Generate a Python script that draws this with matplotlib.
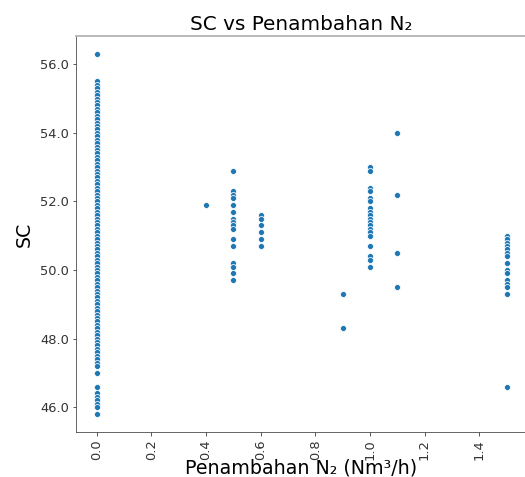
import matplotlib
matplotlib.use("Agg")
import matplotlib.pyplot as plt
from matplotlib.ticker import FormatStrFormatter

# SC values grouped by N2 addition level (Nm3/h)
sc_n2_00 = [
    56.3,
    55.5, 55.4, 55.3, 55.2, 55.1, 55.0, 54.9, 54.8, 54.7, 54.6,
    54.5, 54.4, 54.3, 54.2, 54.1, 54.0, 53.9, 53.8, 53.7, 53.6,
    53.5, 53.4, 53.3, 53.2, 53.1, 53.0, 52.9, 52.8, 52.7, 52.6,
    52.5, 52.4, 52.3, 52.2, 52.1, 52.0, 51.9, 51.8, 51.7, 51.6,
    51.5, 51.4, 51.3, 51.2, 51.1, 51.0, 50.9, 50.8, 50.7, 50.6,
    50.5, 50.4, 50.3, 50.2, 50.1, 50.0, 49.9, 49.8, 49.7, 49.6,
    49.5, 49.4, 49.3, 49.2, 49.1, 49.0, 48.9, 48.8, 48.7, 48.6,
    48.5, 48.4, 48.3, 48.2, 48.1, 48.0, 47.9, 47.8, 47.7, 47.6,
    47.5, 47.4, 47.3, 47.2,
    47.0, 46.6, 46.4, 46.3, 46.2, 46.1, 46.0, 45.8,
]
sc_n2_04 = [51.9]
sc_n2_05 = [52.9, 52.3, 52.2, 52.1, 51.9, 51.7, 51.5, 51.4, 51.3, 51.2,
            50.9, 50.7, 50.2, 50.1, 49.9, 49.7]
sc_n2_06 = [51.6, 51.5, 51.3, 51.1, 50.9, 50.7]
sc_n2_09 = [49.3, 48.3]
sc_n2_10 = [53.0, 52.9, 52.4, 52.3, 52.1, 52.0, 51.8, 51.7, 51.6, 51.5,
            51.4, 51.3, 51.2, 51.1, 51.0, 50.7, 50.4, 50.3, 50.1]
sc_n2_11 = [54.0, 52.2, 50.5, 49.5]
sc_n2_15 = [51.0, 50.9, 50.8, 50.7, 50.6, 50.5, 50.4, 50.2, 50.0, 49.9,
            49.7, 49.6, 49.5, 49.3, 46.6]

groups = [
    (0.0, sc_n2_00), (0.4, sc_n2_04), (0.5, sc_n2_05), (0.6, sc_n2_06),
    (0.9, sc_n2_09), (1.0, sc_n2_10), (1.1, sc_n2_11), (1.5, sc_n2_15),
]

n2 = []
sc = []
for level, vals in groups:
    n2 += [level] * len(vals)
    sc += vals

fig = plt.figure(figsize=(525 / 72, 477 / 72), dpi=72)
ax = fig.add_axes([76 / 525, 45 / 477, 451 / 525, 396 / 477])

ax.scatter(n2, sc, s=36, color="#1f77b4", edgecolor="white", linewidth=0.75)

ax.set_title("SC vs Penambahan N₂", fontsize=20)
ax.set_xlabel("Penambahan N₂ (Nm³/h)", fontsize=19, labelpad=-1)
ax.set_ylabel("SC", fontsize=19, labelpad=6)
ax.yaxis.set_major_formatter(FormatStrFormatter("%.1f"))
ax.tick_params(axis="both", labelsize=13, colors="#333333")
ax.tick_params(axis="x", labelrotation=90)

ax.spines["top"].set_color("#bbbbbb")
ax.spines["top"].set_linewidth(2)
ax.spines["right"].set_visible(False)
ax.spines["left"].set_color("#444444")
ax.spines["bottom"].set_color("#444444")

fig.savefig("out.png", dpi=72)
